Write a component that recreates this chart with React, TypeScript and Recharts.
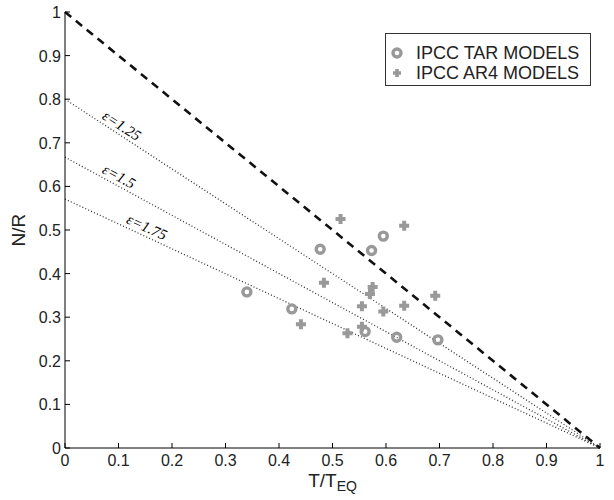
import React from 'react'
import { ScatterChart, Scatter, XAxis, YAxis, ReferenceLine, ReferenceDot, Legend } from 'recharts'

// axis ticks
const tickValues = [0, 0.1, 0.2, 0.3, 0.4, 0.5, 0.6, 0.7, 0.8, 0.9, 1]
const tickLabels = ['0', '0.1', '0.2', '0.3', '0.4', '0.5', '0.6', '0.7', '0.8', '0.9', '1']

// IPCC TAR models (rings)
const tarX = [0.34, 0.424, 0.477, 0.573, 0.595, 0.561, 0.62, 0.697]
const tarY = [0.358, 0.319, 0.456, 0.453, 0.486, 0.267, 0.254, 0.248]

// IPCC AR4 models (plus)
const ar4X = [0.515, 0.634, 0.484, 0.441, 0.575, 0.57, 0.555, 0.595, 0.634, 0.692, 0.528, 0.555]
const ar4Y = [0.525, 0.51, 0.379, 0.284, 0.369, 0.353, 0.325, 0.313, 0.326, 0.349, 0.263, 0.278]

const seriesNames = ['IPCC TAR MODELS', 'IPCC AR4 MODELS']

// efficacy lines: N/R intercept at T/Teq = 0, all meet at (1, 0)
const epsLabels = ['ε=1.25', 'ε=1.5', 'ε=1.75']
const epsIntercepts = [0.8, 0.667, 0.571]
const epsLabelX = [0.097, 0.093, 0.146]
const epsLabelY = [0.722, 0.605, 0.488]

const W = 614
const H = 500
const M = { top: 12, right: 14, left: 0, bottom: 0 }
const Y_AXIS_W = 65
const X_AXIS_H = 52
const PLOT_W = W - M.right - Y_AXIS_W
const PLOT_H = H - M.top - X_AXIS_H

const GREY = '#999'
const FONT = '"Liberation Sans", Arial, sans-serif'

const tarData = tarX.map((x, i) => ({ x, y: tarY[i] }))
const ar4Data = ar4X.map((x, i) => ({ x, y: ar4Y[i] }))

const Ring = ({ cx, cy }: any) => (
  <circle cx={cx} cy={cy} r={4} fill="none" stroke={GREY} strokeWidth={3.4} />
)

const Plus = ({ cx, cy }: any) => (
  <path d={`M${cx - 5},${cy}h10M${cx},${cy - 5}v10`} stroke={GREY} strokeWidth={4} fill="none" />
)

const BottomTick = ({ x, y, index }: any) => (
  <g>
    <line x1={x} y1={y} x2={x} y2={y - 5} stroke="#000" />
    <text x={x} y={y + 18} textAnchor="middle" fontSize={16} fill="#222" fontFamily={FONT}>
      {tickLabels[index]}
    </text>
  </g>
)

const LeftTick = ({ x, y, index }: any) => (
  <g>
    <line x1={x} y1={y} x2={x + 5} y2={y} stroke="#000" />
    <text x={x - 4} y={y + 6} textAnchor="end" fontSize={16} fill="#222" fontFamily={FONT}>
      {tickLabels[index]}
    </text>
  </g>
)

const TopTick = ({ x, y }: any) => <line x1={x} y1={y} x2={x} y2={y + 5} stroke="#000" />
const RightTick = ({ x, y }: any) => <line x1={x} y1={y} x2={x - 5} y2={y} stroke="#000" />

const XTitle = ({ viewBox }: any) => (
  <text x={viewBox.x + viewBox.width / 2} y={viewBox.y + 39} textAnchor="middle" fontSize={19} fill="#222" fontFamily={FONT}>
    T/T
    <tspan fontSize={14} dy={4}>EQ</tspan>
  </text>
)

const YTitle = ({ viewBox }: any) => {
  const cx = viewBox.x + 25
  const cy = viewBox.y + viewBox.height / 2
  return (
    <text x={cx} y={cy} transform={`rotate(-90 ${cx} ${cy})`} textAnchor="middle" fontSize={19} fill="#222" fontFamily={FONT}>
      N/R
    </text>
  )
}

const LegendBox = () => (
  <div style={{ width: 204, height: 51, border: '1px solid #333', background: '#fff', boxSizing: 'content-box' }}>
    <svg width={204} height={51}>
      <circle cx={11} cy={19} r={4} fill="none" stroke={GREY} strokeWidth={3.4} />
      <text x={30} y={25} fontSize={18} fill="#222" fontFamily={FONT}>{seriesNames[0]}</text>
      <path d="M7,39h8M11,35v8" stroke={GREY} strokeWidth={3.6} />
      <text x={30} y={45} fontSize={18} fill="#222" fontFamily={FONT}>{seriesNames[1]}</text>
    </svg>
  </div>
)

const EpsLabel = (text: string, intercept: number) => ({ cx, cy }: any) => {
  const angle = (Math.atan((intercept * PLOT_H) / PLOT_W) * 180) / Math.PI
  return (
    <text
      x={cx}
      y={cy}
      transform={`rotate(${angle} ${cx} ${cy}) translate(0 -4)`}
      textAnchor="middle"
      fontSize={15}
      fontStyle="italic"
      fill="#000"
      fontFamily='"Liberation Serif", "Times New Roman", serif'
    >
      {text}
    </text>
  )
}

export default function App() {
  return (
    <div style={{ position: 'absolute', left: 0, top: 0, width: W, height: H, background: '#fff' }}>
      <ScatterChart width={W} height={H} margin={M}>
        <XAxis
          type="number"
          dataKey="x"
          domain={[0, 1]}
          ticks={tickValues}
          interval={0}
          height={X_AXIS_H}
          tickSize={0}
          tickMargin={0}
          tickLine={false}
          axisLine={{ stroke: '#000' }}
          tick={<BottomTick />}
          label={<XTitle />}
        />
        <XAxis
          xAxisId="top"
          orientation="top"
          type="number"
          domain={[0, 1]}
          ticks={tickValues}
          interval={0}
          height={0}
          tickSize={0}
          tickMargin={0}
          tickLine={false}
          axisLine={{ stroke: '#000' }}
          tick={<TopTick />}
        />
        <YAxis
          type="number"
          dataKey="y"
          domain={[0, 1]}
          ticks={tickValues}
          interval={0}
          width={Y_AXIS_W}
          tickSize={0}
          tickMargin={0}
          tickLine={false}
          axisLine={{ stroke: '#000' }}
          tick={<LeftTick />}
          label={<YTitle />}
        />
        <YAxis
          yAxisId="right"
          orientation="right"
          type="number"
          domain={[0, 1]}
          ticks={tickValues}
          interval={0}
          width={0}
          tickSize={0}
          tickMargin={0}
          tickLine={false}
          axisLine={{ stroke: '#000' }}
          tick={<RightTick />}
        />
        <ReferenceLine
          segment={[{ x: 0, y: 1 }, { x: 1, y: 0 }]}
          stroke="#111"
          strokeWidth={2.6}
          strokeDasharray="8 6"
        />
        {epsIntercepts.map((b, i) => (
          <ReferenceLine
            key={epsLabels[i]}
            segment={[{ x: 0, y: b }, { x: 1, y: 0 }]}
            stroke="#333"
            strokeWidth={1.3}
            strokeDasharray="1 2.2"
          />
        ))}
        {epsLabels.map((t, i) => (
          <ReferenceDot
            key={t}
            x={epsLabelX[i]}
            y={epsLabelY[i]}
            r={0}
            shape={EpsLabel(t, epsIntercepts[i])}
          />
        ))}
        <Scatter name={seriesNames[0]} data={tarData} shape={<Ring />} isAnimationActive={false} />
        <Scatter name={seriesNames[1]} data={ar4Data} shape={<Plus />} isAnimationActive={false} />
        <Legend
          layout="vertical"
          align="center"
          verticalAlign="middle"
          wrapperStyle={{ top: 33, left: 385, width: 206, height: 53 }}
          content={<LegendBox />}
        />
      </ScatterChart>
    </div>
  )
}
